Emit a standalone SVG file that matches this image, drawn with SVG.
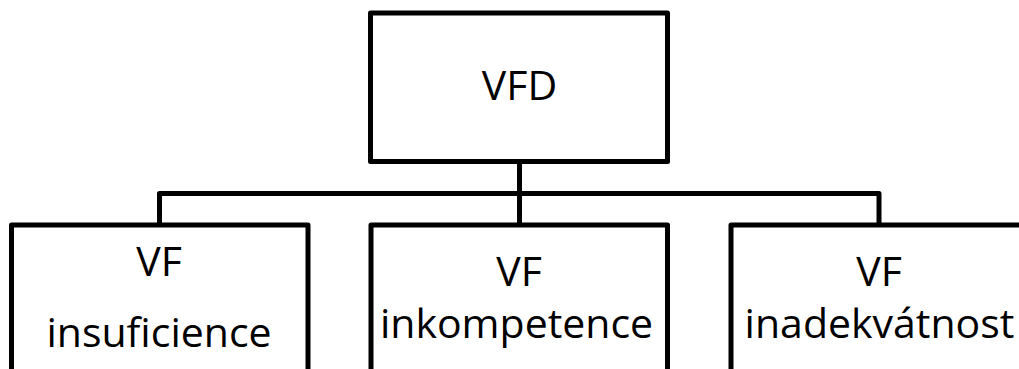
<svg xmlns="http://www.w3.org/2000/svg" width="1019" height="369" viewBox="0 0 1019 369">
<style>
.box{fill:#ffffff;stroke:#000000;stroke-width:5;stroke-linejoin:round}
.conn{fill:none;stroke:#000000;stroke-width:5;stroke-linejoin:round}
.lbl{font-family:"Open Sans","Noto Sans","Liberation Sans",sans-serif;font-size:41px;fill:#000000;text-anchor:middle}
</style>
<rect width="1019" height="369" fill="#ffffff"/>
<g id="connectors">
<path class="conn" d="M159.5,226 V193.5 H879 V226"/>
<path class="conn" d="M519.5,161.5 V226"/>
</g>
<g id="node-vfd">
<rect class="box" x="370.5" y="13" width="297" height="148.5"/>
<text class="lbl" x="519.5" y="99.5">VFD</text>
</g>
<g id="node-insuficience">
<rect class="box" x="11.5" y="225" width="296.5" height="160"/>
<text class="lbl" x="159" y="276">VF</text>
<text class="lbl" x="159" y="347">insuficience</text>
</g>
<g id="node-inkompetence">
<rect class="box" x="371" y="225" width="296.5" height="160"/>
<text class="lbl" x="519" y="286">VF</text>
<text class="lbl" x="516.5" y="338">inkompetence</text>
</g>
<g id="node-inadekvatnost">
<rect class="box" x="731" y="225" width="310" height="160"/>
<text class="lbl" x="879" y="286">VF</text>
<text class="lbl" x="879.5" y="338">inadekvátnost</text>
</g>
</svg>
